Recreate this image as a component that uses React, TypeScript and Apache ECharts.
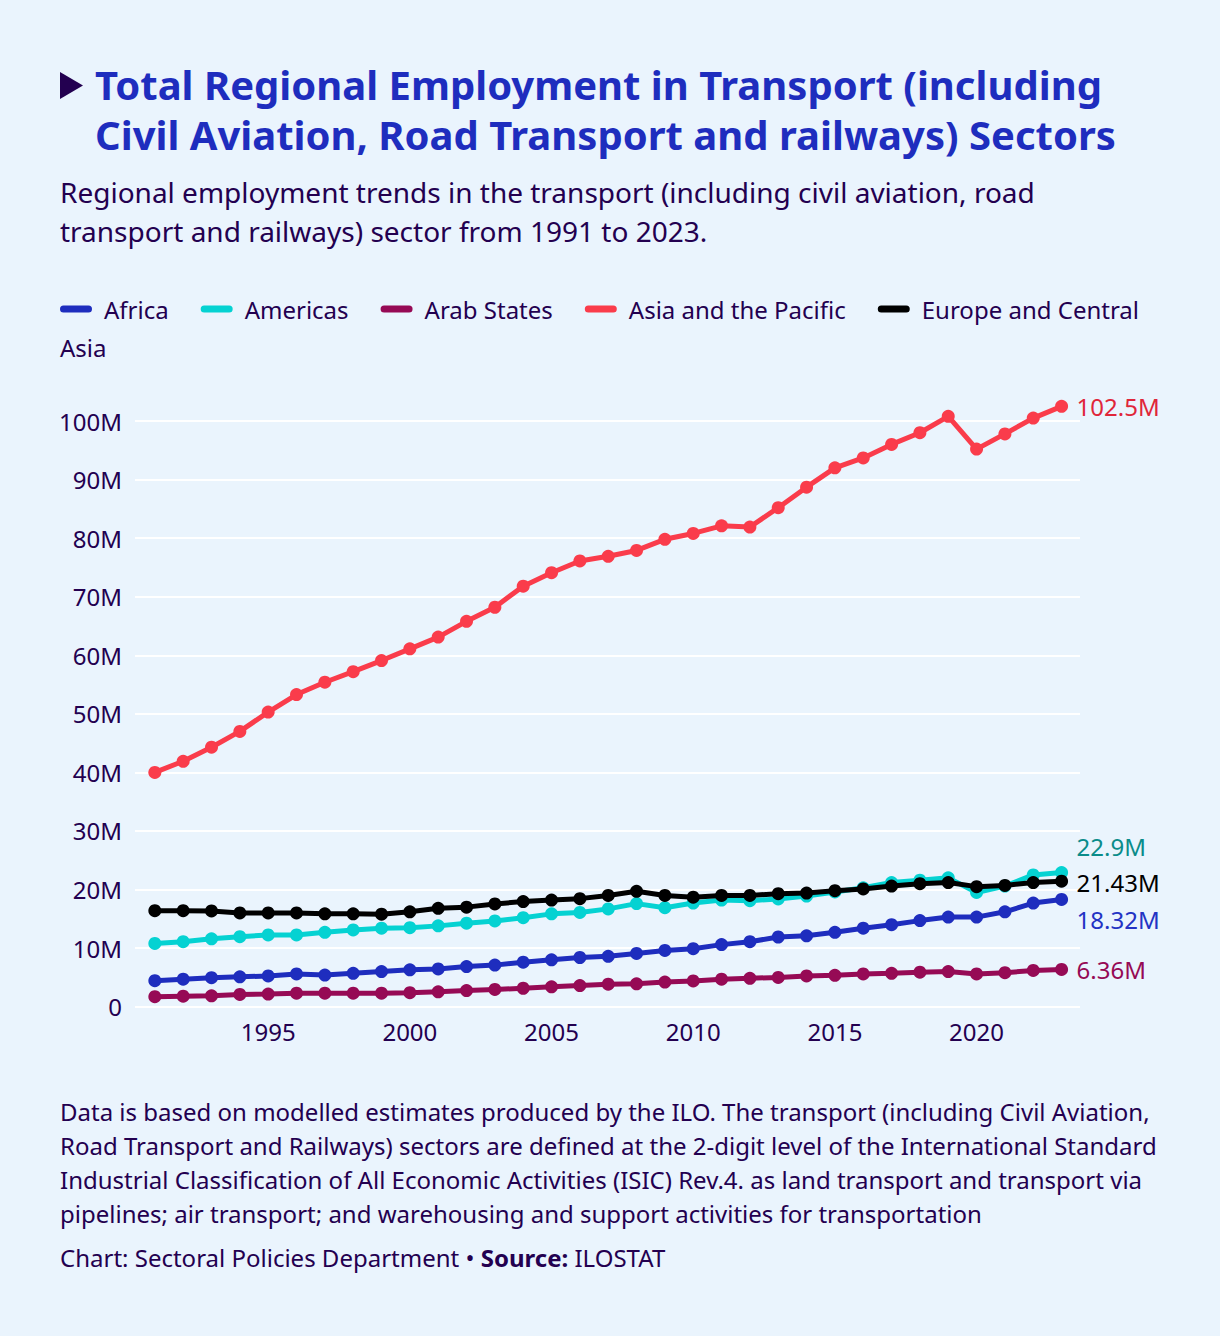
import React, { useEffect, useRef } from 'react';
import * as echarts from 'echarts';

const years = [1991, 1992, 1993, 1994, 1995, 1996, 1997, 1998, 1999, 2000, 2001, 2002, 2003, 2004, 2005, 2006, 2007, 2008, 2009, 2010, 2011, 2012, 2013, 2014, 2015, 2016, 2017, 2018, 2019, 2020, 2021, 2022, 2023];

const seriesNames = ['Africa', 'Americas', 'Arab States', 'Asia and the Pacific', 'Europe and Central Asia'];

// values in millions
const africa = [4.45, 4.7, 4.95, 5.1, 5.25, 5.6, 5.4, 5.7, 6.0, 6.3, 6.45, 6.85, 7.1, 7.6, 8.0, 8.4, 8.6, 9.1, 9.6, 9.9, 10.6, 11.1, 11.9, 12.1, 12.7, 13.4, 14.0, 14.7, 15.3, 15.3, 16.2, 17.7, 18.32];
const americas = [10.8, 11.1, 11.6, 11.95, 12.25, 12.25, 12.7, 13.1, 13.4, 13.5, 13.8, 14.25, 14.65, 15.2, 15.85, 16.1, 16.7, 17.6, 16.9, 17.7, 18.2, 18.1, 18.4, 18.9, 19.6, 20.3, 21.2, 21.6, 22.0, 19.5, 20.6, 22.5, 22.9];
const arabStates = [1.7, 1.8, 1.85, 2.1, 2.15, 2.3, 2.3, 2.3, 2.3, 2.4, 2.55, 2.75, 2.95, 3.15, 3.4, 3.6, 3.85, 3.9, 4.2, 4.4, 4.7, 4.85, 5.0, 5.25, 5.35, 5.6, 5.7, 5.9, 6.0, 5.6, 5.8, 6.2, 6.36];
const asiaPacific = [40.0, 41.9, 44.3, 47.0, 50.3, 53.3, 55.4, 57.2, 59.1, 61.1, 63.1, 65.8, 68.2, 71.8, 74.1, 76.1, 76.9, 77.9, 79.8, 80.8, 82.1, 81.9, 85.2, 88.7, 92.0, 93.7, 96.0, 98.0, 100.8, 95.2, 97.8, 100.5, 102.5];
const europeCentralAsia = [16.4, 16.4, 16.35, 16.0, 16.0, 16.0, 15.85, 15.85, 15.8, 16.2, 16.8, 17.0, 17.55, 17.95, 18.2, 18.45, 19.0, 19.7, 19.0, 18.7, 19.0, 19.0, 19.3, 19.4, 19.8, 20.1, 20.6, 21.0, 21.2, 20.5, 20.7, 21.2, 21.43];

const seriesValues = [africa, americas, arabStates, asiaPacific, europeCentralAsia];

const lineColors = ['#1e2dbe', '#05d2d2', '#960a55', '#fa3c4b', '#000000'];
const endLabelColors = ['#2333c4', '#0b8c8a', '#960a55', '#e0263a', '#000000'];
const endLabelShiftY = [20, -26, 0, 0, 1];

const titleText = 'Total Regional Employment in Transport (including\nCivil Aviation, Road Transport and railways) Sectors';
const subtitleText = 'Regional employment trends in the transport (including civil aviation, road\ntransport and railways) sector from 1991 to 2023.';
const noteText = 'Data is based on modelled estimates produced by the ILO. The transport (including Civil Aviation,\nRoad Transport and Railways) sectors are defined at the 2-digit level of the International Standard\nIndustrial Classification of All Economic Activities (ISIC) Rev.4. as land transport and transport via\npipelines; air transport; and warehousing and support activities for transportation';
const creditText = 'Chart: Sectoral Policies Department • ';
const sourceLabel = 'Source:';
const sourceName = ' ILOSTAT';

const FONT = '"Noto Sans", sans-serif';
const INK = '#230050';
const BG = '#eaf4fd';

function buildLegend(): any[] {
  const els: any[] = [];
  const canvas = document.createElement('canvas');
  const ctx = canvas.getContext('2d') as CanvasRenderingContext2D;
  const fs = 24;
  ctx.font = `${fs}px "Noto Sans"`;
  let x = 60;
  let y = 309;
  const maxX = 1160;
  seriesNames.forEach((name, i) => {
    els.push({
      type: 'rect',
      shape: { x, y: y - 3.5, width: 32, height: 7, r: 3.5 },
      style: { fill: lineColors[i] },
    });
    x += 44;
    const w = ctx.measureText(name).width;
    if (x + w > maxX) {
      const words = name.split(' ');
      let line = '';
      let k = 0;
      for (; k < words.length; k++) {
        const test = line ? line + ' ' + words[k] : words[k];
        if (x + ctx.measureText(test).width > maxX) break;
        line = test;
      }
      const rest = words.slice(k).join(' ');
      els.push({ type: 'text', x, y, style: { text: line, fontSize: fs, fontFamily: FONT, fill: INK, verticalAlign: 'middle', align: 'left' } });
      y += 38;
      x = 60;
      els.push({ type: 'text', x, y, style: { text: rest, fontSize: fs, fontFamily: FONT, fill: INK, verticalAlign: 'middle', align: 'left' } });
      x += ctx.measureText(rest).width + 32;
    } else {
      els.push({ type: 'text', x, y, style: { text: name, fontSize: fs, fontFamily: FONT, fill: INK, verticalAlign: 'middle', align: 'left' } });
      x += w + 32;
    }
  });
  return els;
}

function fmtM(v: number): string {
  return `${parseFloat(v.toFixed(2))}M`;
}

export default function App() {
  const ref = useRef<HTMLDivElement>(null);
  useEffect(() => {
    document.body.style.margin = '0';
    document.body.style.background = BG;
    if (!ref.current) return;
    const chart = echarts.init(ref.current, null, { renderer: 'svg' });
    const series = seriesNames.map((name, i) => ({
      name,
      type: 'line',
      data: years.map((yr, j) => [yr, seriesValues[i][j]]),
      symbol: 'circle',
      symbolSize: 13,
      clip: false,
      lineStyle: { width: 5, color: lineColors[i] },
      itemStyle: { color: lineColors[i] },
      emphasis: { disabled: true },
      endLabel: {
        show: true,
        distance: 15,
        offset: [0, endLabelShiftY[i]],
        formatter: (p: any) => fmtM(p.value[1]),
        color: endLabelColors[i],
        fontSize: 24,
        fontFamily: FONT,
      },
      z: 2 + i,
    }));
    const option: any = {
      animation: false,
      backgroundColor: BG,
      textStyle: { fontFamily: FONT },
      title: [
        {
          text: titleText,
          left: 95,
          top: 59,
          padding: 0,
          textStyle: { fontFamily: FONT, fontSize: 40, fontWeight: 'bold', color: '#1e2dbe', lineHeight: 50 },
        },
        {
          text: subtitleText,
          left: 60,
          top: 172,
          padding: 0,
          textStyle: { fontFamily: FONT, fontSize: 28, fontWeight: 'normal', color: INK, lineHeight: 39 },
        },
      ],
      grid: { left: 135, right: 140, top: 421, bottom: 1336 - 1006.7, outerBoundsMode: 'none' },
      xAxis: {
        type: 'value',
        min: 1990.3,
        max: 2023.65,
        axisLine: { show: false },
        axisTick: { show: false },
        splitLine: { show: false },
        axisLabel: {
          margin: 13,
          fontSize: 24,
          fontFamily: FONT,
          color: INK,
          showMinLabel: false,
          showMaxLabel: false,
          formatter: (v: number) => (Math.abs(v % 5) < 1e-9 ? String(v) : ''),
        },
      },
      yAxis: {
        type: 'value',
        min: 0,
        max: 100,
        interval: 10,
        axisLine: { show: false },
        axisTick: { show: false },
        splitLine: { show: true, lineStyle: { color: '#ffffff', width: 2 } },
        axisLabel: {
          margin: 13,
          fontSize: 24,
          fontFamily: FONT,
          color: INK,
          formatter: (v: number) => (v === 0 ? '0' : `${v}M`),
        },
      },
      series,
      graphic: [
        {
          type: 'polygon',
          shape: { points: [[60, 72], [83, 85.5], [60, 99]] },
          style: { fill: INK },
        },
        ...buildLegend(),
        {
          type: 'text',
          x: 60,
          y: 1094,
          style: { text: noteText, fontSize: 24, fontFamily: FONT, fill: INK, lineHeight: 34, verticalAlign: 'top', align: 'left' },
        },
        {
          type: 'text',
          x: 60,
          y: 1257,
          style: {
            text: `{n|${creditText}}{b|${sourceLabel}}{n|${sourceName}}`,
            verticalAlign: 'middle',
            align: 'left',
            rich: {
              n: { fontSize: 24, fontFamily: FONT, fill: INK, color: INK },
              b: { fontSize: 24, fontFamily: FONT, fontWeight: 'bold', fill: INK, color: INK },
            },
          },
        },
      ],
    };
    chart.setOption(option);
    return () => chart.dispose();
  }, []);
  return <div ref={ref} style={{ width: 1220, height: 1336, background: BG }} />;
}
